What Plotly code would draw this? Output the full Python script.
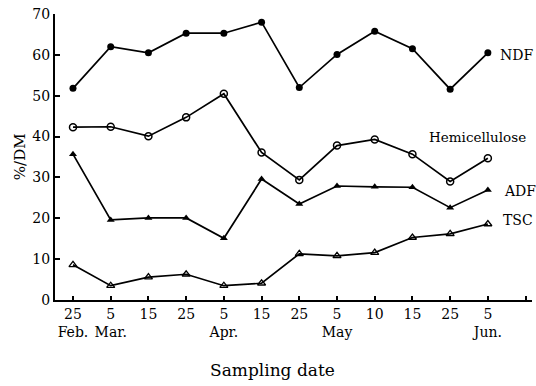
import plotly.graph_objects as go

dates = ["25<br>Feb.", "5<br>Mar.", "15", "25", "5<br>Apr.", "15", "25",
         "5<br>May", "10", "15", "25", "5<br>Jun."]
ndf = [51.8, 62.0, 60.5, 65.3, 65.3, 68.0, 52.0, 60.1, 65.8, 61.5, 51.6, 60.5]
hemi = [42.3, 42.4, 40.1, 44.7, 50.5, 36.1, 29.4, 37.8, 39.3, 35.7, 29.0, 34.7]
adf = [35.7, 19.6, 20.1, 20.1, 15.1, 29.6, 23.5, 27.9, 27.7, 27.6, 22.6, 26.9]
tsc = [8.6, 3.5, 5.6, 6.3, 3.5, 4.1, 11.3, 10.8, 11.6, 15.3, 16.2, 18.6]
series_names = ["NDF", "Hemicellulose", "ADF", "TSC"]
y_ticks = [0, 10, 20, 30, 40, 50, 60, 70]

idx = list(range(len(dates)))
font = "DejaVu Serif, serif"

fig = go.Figure()
styles = [
    (ndf, dict(symbol="circle", size=7, color="black")),
    (hemi, dict(symbol="circle-open", size=7, color="black", line=dict(width=1.5))),
    (adf, dict(symbol="triangle-up", size=7, color="black")),
    (tsc, dict(symbol="triangle-up-open", size=7, color="black", line=dict(width=1.3))),
]
for name, (vals, mk) in zip(series_names, styles):
    fig.add_trace(go.Scatter(x=idx, y=vals, mode="lines+markers", name=name,
                             line=dict(color="black", width=1.7), marker=mk,
                             showlegend=False, cliponaxis=False))

label_pos = [
    ("NDF", 11.28, 60.0),
    ("Hemicellulose", 9.38, 39.9),
    ("ADF", 11.37, 26.7),
    ("TSC", 11.34, 19.6),
]
for text, xv, yv in label_pos:
    fig.add_annotation(x=xv, y=yv, xref="x", yref="y", text=text, showarrow=False,
                       xanchor="left", yanchor="middle",
                       font=dict(family=font, size=14 if text != "Hemicellulose" else 13.5,
                                 color="black"))

fig.add_annotation(x=-0.073, y=0.5, xref="paper", yref="paper", text="%/DM",
                   textangle=-90, showarrow=False, xanchor="center", yanchor="middle",
                   font=dict(family=font, size=15, color="black"))
fig.add_annotation(x=0.457, y=-0.245, xref="paper", yref="paper", text="Sampling date",
                   showarrow=False, xanchor="center", yanchor="middle",
                   font=dict(family=font, size=17, color="black"))

fig.update_layout(
    width=536, height=386,
    margin=dict(l=55, r=4, t=14, b=86, autoexpand=False),
    plot_bgcolor="white", paper_bgcolor="white",
    font=dict(family=font, size=14, color="black"),
)

fig.update_xaxes(range=[-0.477, 12.17], tickvals=idx + [12], ticktext=dates + [""],
                 showline=True, linecolor="black", linewidth=2, ticks="inside",
                 ticklen=4, tickwidth=1.5, tickcolor="black", showgrid=False,
                 zeroline=False, tickangle=0, automargin=False,
                 tickfont=dict(family=font, size=14))
fig.update_yaxes(range=[0, 70], tickvals=y_ticks, showline=True, linecolor="black",
                 linewidth=2, ticks="inside", ticklen=5, tickwidth=1.5, tickcolor="black",
                 showgrid=False, zeroline=False, automargin=False,
                 tickfont=dict(family=font, size=14))

fig.write_html("out.html", config={"displayModeBar": False},
               post_script="document.body.style.margin='0';document.body.style.padding='0';")
